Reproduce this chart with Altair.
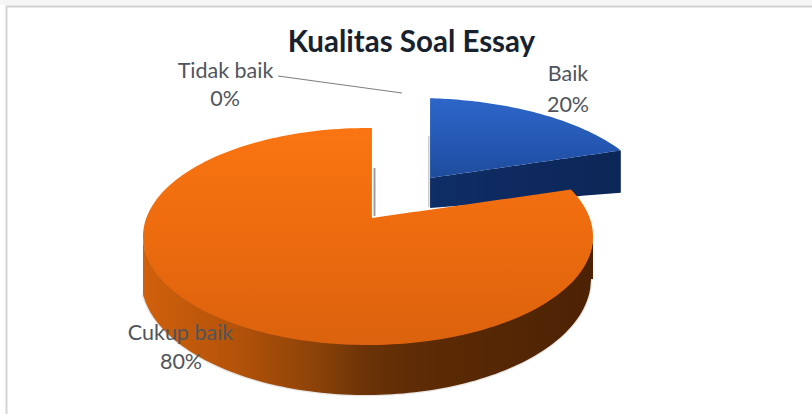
import altair as alt
import numpy as np
import pandas as pd

# Chart values
categories = ["Baik", "Tidak baik", "Cukup baik"]
shares = [20, 0, 80]
chart_title = "Kualitas Soal Essay"

WIDTH, HEIGHT = 812, 414

# Tilted-disc geometry of the pie (centre x/y, radii x/y) in drawing units
MAIN = dict(cx=368.0, cy=236.5, rx=225.0, ry=108.5)
MAIN_BASE = dict(cx=366.0, cy=279.0, rx=225.0, ry=116.0)
MAIN_APEX = (373.0, 218.0)
BLUE = dict(cx=415.0, cy=206.0, rx=240.0, ry=108.0)
BLUE_APEX = (430.0, 178.0)
BLUE_APEX_LOW = (430.0, 208.0)
BLUE_CORNER_LOW = (618.0, 193.0)

# Foreshortening of each slice's sweep under the viewing perspective
main_sweep = shares[2] / 100 * 360 * 1.03
blue_sweep = shares[0] / 100 * 360 * 0.77
main_start = 1.0
blue_start = 3.6


def rim(e, deg):
    t = np.radians(deg)
    return e["cx"] + e["rx"] * np.sin(t), e["cy"] - e["ry"] * np.cos(t)


def lower_edge(e, x):
    u = np.clip((np.asarray(x) - e["cx"]) / e["rx"], -1, 1)
    return e["cy"] + e["ry"] * np.sqrt(1 - u**2)


def upper_edge(e, x):
    u = np.clip((np.asarray(x) - e["cx"]) / e["rx"], -1, 1)
    return e["cy"] - e["ry"] * np.sqrt(1 - u**2)


def chord(p, q, x):
    return p[1] + (q[1] - p[1]) * (np.asarray(x) - p[0]) / (q[0] - p[0])


# Orange slice: upper boundary follows the rim, drops into the notch, runs
# along the cut to the far corner and rejoins the rim
xs_disc = MAIN["cx"] + MAIN["rx"] * np.sin(np.radians(np.arange(-90, 90.5, 1.5)))
notch_x, _ = rim(MAIN, main_start)
corner = rim(MAIN, main_start - main_sweep + 360)

left = xs_disc[xs_disc < notch_x]
left = np.append(left, notch_x)
mid = np.linspace(notch_x + 0.01, corner[0], 30)
right = np.append(corner[0] + 0.01, xs_disc[xs_disc > corner[0] + 0.01])

main_top = pd.concat([
    pd.DataFrame({"x": left, "y": upper_edge(MAIN, left)}),
    pd.DataFrame({"x": mid, "y": chord((notch_x + 0.01, MAIN_APEX[1]), corner, mid)}),
    pd.DataFrame({"x": right, "y": upper_edge(MAIN, right)}),
], ignore_index=True)
main_top["y2"] = lower_edge(MAIN, main_top["x"])

main_wall = pd.DataFrame({"x": xs_disc})
main_wall["y"] = lower_edge(MAIN, xs_disc) - 1
main_wall["y2"] = lower_edge(MAIN_BASE, xs_disc)

# Blue slice, pulled out of the pie
blue_a = rim(BLUE, blue_start)[0]
blue_corner = rim(BLUE, blue_start + blue_sweep)
blue_x = np.linspace(blue_a, blue_corner[0], 60)
blue_top = pd.DataFrame({
    "x": blue_x,
    "y": upper_edge(BLUE, blue_x),
    "y2": chord(BLUE_APEX, blue_corner, blue_x),
})
blue_wall = pd.DataFrame({
    "x": blue_x,
    "y": chord(BLUE_APEX, blue_corner, blue_x),
    "y2": chord(BLUE_APEX_LOW, BLUE_CORNER_LOW, blue_x),
})

x_scale = alt.Scale(domain=[0, WIDTH], nice=False, zero=False)
y_scale = alt.Scale(domain=[HEIGHT, 0], nice=False, zero=False)
x_enc = alt.X("x:Q", axis=None, scale=x_scale)
y_enc = alt.Y("y:Q", axis=None, scale=y_scale)


def gradient(stops, horizontal=False):
    return alt.Gradient(
        gradient="linear",
        stops=[alt.GradientStop(offset=o, color=c) for o, c in stops],
        x1=0, x2=1 if horizontal else 0, y1=0, y2=0 if horizontal else 1,
    )


def face(df, fill):
    return alt.Chart(df).mark_area(fill=fill, interpolate="linear").encode(
        x=x_enc, y=y_enc, y2="y2:Q"
    )


def rule(x0, y0, x1, y1, color, width, opacity=1.0):
    df = pd.DataFrame({"x": [x0], "y": [y0], "x2": [x1], "y2": [y1]})
    return alt.Chart(df).mark_rule(color=color, strokeWidth=width, opacity=opacity).encode(
        x=x_enc, y=y_enc, x2="x2:Q", y2="y2:Q"
    )


def text(rows, size, color, weight="normal"):
    df = pd.DataFrame(rows, columns=["x", "y", "label"])
    return alt.Chart(df).mark_text(
        font="Lato", fontSize=size, fontWeight=weight, color=color,
        align="center", baseline="alphabetic",
    ).encode(x=x_enc, y=y_enc, text="label:N")


# Page frame
top_band = alt.Chart(pd.DataFrame({"x": [0], "x2": [WIDTH], "y": [0], "y2": [5]})).mark_rect(
    color="#f6f6f6"
).encode(x=x_enc, x2="x2:Q", y=y_enc, y2="y2:Q")
frame_top = rule(6, 6.5, WIDTH, 6.5, "#cfcfcf", 2)
frame_left = rule(6.5, 6, 6.5, HEIGHT, "#d4d4d4", 2)

# Soft edge under the disc and beside the cut faces
base_halo = alt.Chart(main_wall).mark_line(color="#8a7a70", strokeWidth=2.5, opacity=0.2).encode(
    x=x_enc, y=alt.Y("y2:Q", axis=None, scale=y_scale)
)
notch_shadow = rule(374.5, 168, 374.5, 216, "#7d7d7d", 2, 0.75)
blue_shadow = rule(428.8, 136, 428.8, 207, "#8a8a8a", 1.5, 0.45)

blue_wall_layer = face(blue_wall, gradient([(0, "#0f2d66"), (1, "#0c2657")], horizontal=True))
blue_top_layer = face(blue_top, gradient([(0, "#2d66c8"), (0.55, "#2558b4"), (1, "#1e4c9c")]))

main_wall_layer = face(main_wall, gradient([
    (0, "#d0600c"), (0.2, "#b5530a"), (0.39, "#8a4208"),
    (0.5, "#6a3207"), (0.62, "#5d2b05"), (1, "#4c2204"),
], horizontal=True))
main_top_layer = face(main_top, gradient([(0, "#fa7512"), (0.5, "#ec6b0e"), (1, "#dc620d")]))

leader = rule(278, 76, 402, 93, "#7f7f7f", 1.2)

title_mark = text([(411.5, 51.5, chart_title)], 29.5, "#18222e", "bold")
labels = text([
    (568, 81, categories[0]),
    (568, 112, f"{shares[0]}%"),
    (225.5, 78, categories[1]),
    (225, 106, f"{shares[1]}%"),
    (180.5, 340, categories[2]),
    (181, 369, f"{shares[2]}%"),
], 21.5, "#50555c")

chart = alt.layer(
    top_band, frame_top, frame_left,
    blue_shadow, blue_wall_layer, blue_top_layer,
    base_halo, main_wall_layer, main_top_layer, notch_shadow,
    leader, title_mark, labels,
).properties(
    width=WIDTH, height=HEIGHT, background="white", padding=0,
    autosize=alt.AutoSizeParams(type="none"),
).configure_view(stroke=None)

chart.save("out.html", embed_options={"renderer": "svg", "actions": False})
